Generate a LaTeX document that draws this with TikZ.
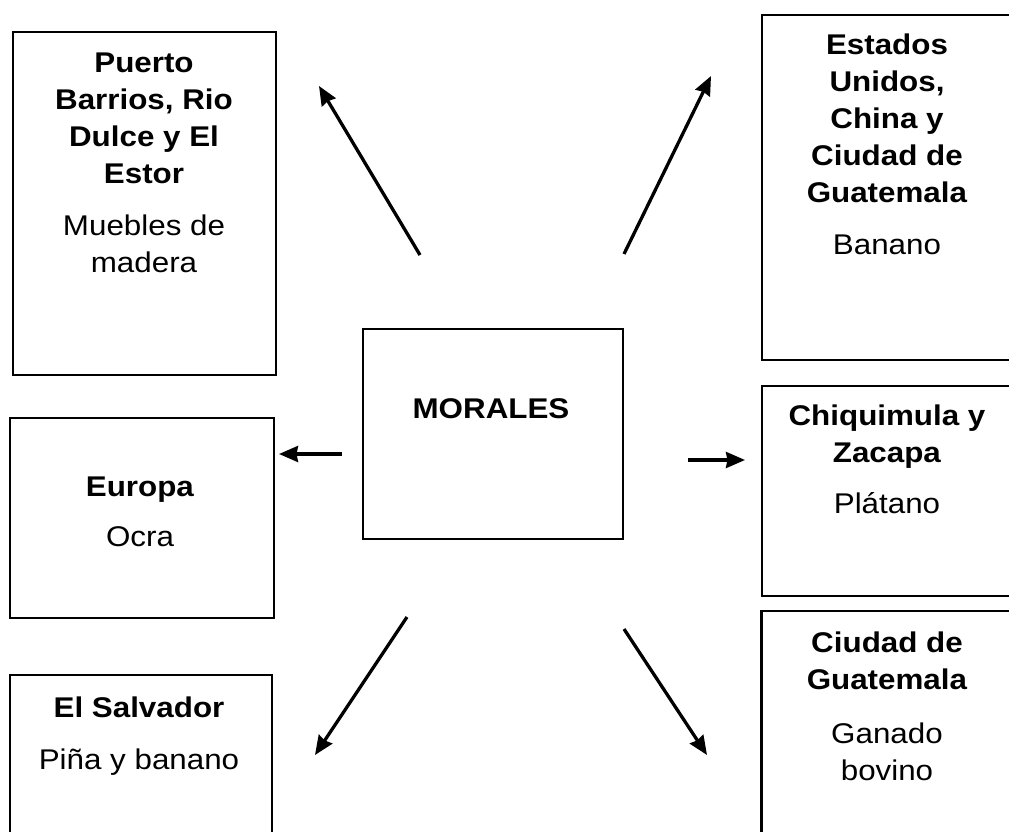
\documentclass[tikz,border=0pt]{standalone}
\usepackage{fontspec}
\setmainfont{Liberation Sans}[FakeStretch=1.1]
\usetikzlibrary{arrows.meta}
\tikzset{
  box/.style={draw=black, line width=2.2pt, inner sep=0pt, rectangle},
  txt/.style={inner sep=0pt, align=center, anchor=north, font=\fontsize{28.5}{37}\selectfont},
  arr/.style={line width=3.3pt, -{Stealth[length=19pt,width=16pt,inset=1.5pt]}}
}
\begin{document}
\begin{tikzpicture}[x=1pt,y=-1pt]
\useasboundingbox (0,0) rectangle (1009,832);
\clip (0,0) rectangle (1009,832);
% boxes
\node[box, minimum width=263, minimum height=343] (b1) at (144.5,203.5) {};
\node[box, minimum width=251, minimum height=345] (b2) at (887.5,187.5) {};
\node[box, minimum width=260, minimum height=210] (bm) at (493,434) {};
\node[box, minimum width=264, minimum height=200] (b3) at (142,518) {};
\node[box, minimum width=251, minimum height=210] (b4) at (887.5,491) {};
\node[box, minimum width=262, minimum height=200] (b5) at (141,775) {};
\node[box, minimum width=251, minimum height=250] (b6) at (887,736) {};
% texts
\node[txt] (t1) at (144,53) {\textbf{Puerto}\\\textbf{Barrios, Rio}\\\textbf{Dulce y El}\\\textbf{Estor}\\[15pt]Muebles de\\madera};
\node[txt] (t2) at (887,34) {\textbf{Estados}\\\textbf{Unidos,}\\\textbf{China y}\\\textbf{Ciudad de}\\\textbf{Guatemala}\\[15pt]Banano};
\node[txt] (tm) at (491,398) {\textbf{MORALES}};
\node[txt] (t3) at (140,477) {\textbf{Europa}\\[13pt]Ocra};
\node[txt] (t5) at (139,697) {\textbf{El Salvador}\\[15pt]Piña y banano};
\node[txt] (t4) at (887,405) {\textbf{Chiquimula y}\\\textbf{Zacapa}\\[14pt]Plátano};
\node[txt] (t6) at (887,632) {\textbf{Ciudad de}\\\textbf{Guatemala}\\[17pt]Ganado\\bovino};
% arrow ends
\coordinate (a1s) at (420,255); \coordinate (a1e) at (319,86);
\coordinate (a2s) at (624,254); \coordinate (a2e) at (711,76);
\coordinate (a3s) at (342,454); \coordinate (a3e) at (279,454);
\coordinate (a4s) at (688,460); \coordinate (a4e) at (745,460);
\coordinate (a5s) at (407,617); \coordinate (a5e) at (315,755);
\coordinate (a6s) at (624,629); \coordinate (a6e) at (707,755);
\draw[arr] (a1s) -- (a1e);
\draw[arr] (a2s) -- (a2e);
\draw[arr] (a3s) -- (a3e);
\draw[arr] (a4s) -- (a4e);
\draw[arr] (a5s) -- (a5e);
\draw[arr] (a6s) -- (a6e);
\end{tikzpicture}
\end{document}
